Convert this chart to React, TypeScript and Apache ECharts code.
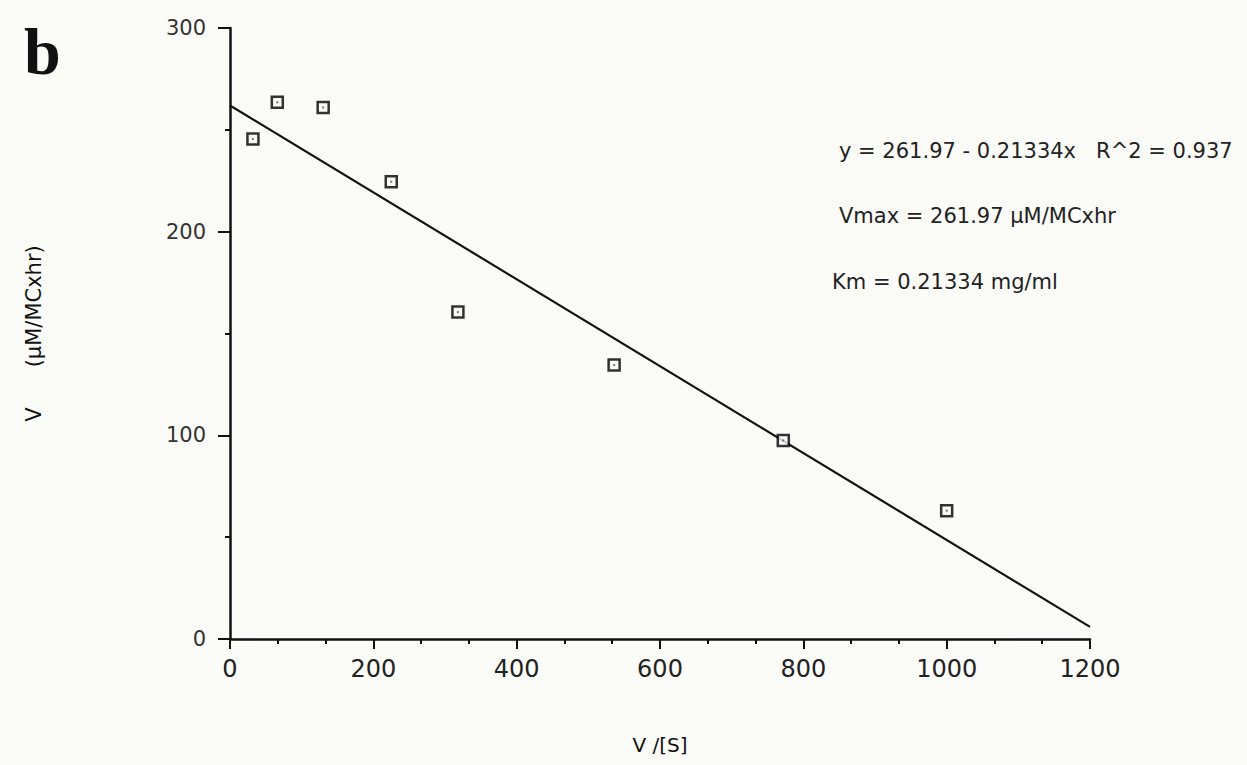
import React, { useEffect, useRef } from "react";
import * as echarts from "echarts";

// Eadie–Hofstee style plot: v against v/[S]
const vOverS = [32, 66, 130, 225, 318, 536, 772, 1000];
const velocity = [245.5, 263.5, 261, 224.5, 160.5, 134.5, 97.5, 63];

// Linear fit reported for the data
const intercept = 261.97;
const slope = -0.21334;
const fitRange = [0, 1200];

const equationLines = [
  "y = 261.97 - 0.21334x   R^2 = 0.937",
  "Vmax = 261.97 µM/MCxhr",
  "Km = 0.21334 mg/ml",
];

const AXIS_FONT = "'DejaVu Sans', sans-serif";
const INK = "#111";

export default function App() {
  const ref = useRef<HTMLDivElement>(null);

  useEffect(() => {
    document.body.style.margin = "0";
    if (!ref.current) return;
    const chart = echarts.init(ref.current, undefined, { renderer: "svg" });

    const points = vOverS.map((x, i) => [x, velocity[i]]);
    const fitLine = fitRange.map((x) => [x, intercept + slope * x]);

    chart.setOption({
      animation: false,
      backgroundColor: "#fbfbf8",
      grid: { left: 230, right: 157, top: 28, bottom: 126 },
      xAxis: {
        type: "value",
        min: 0,
        max: 1200,
        interval: 200,
        name: "V /[S]",
        nameLocation: "middle",
        nameGap: 96,
        nameTextStyle: { color: INK, fontSize: 20, fontFamily: AXIS_FONT },
        axisLine: { lineStyle: { color: INK, width: 2.5 } },
        axisTick: { show: true, inside: false, length: 10, lineStyle: { color: INK, width: 2 } },
        minorTick: { show: true, splitNumber: 3, length: 5, lineStyle: { color: INK, width: 2 } },
        axisLabel: {
          color: "#222",
          fontSize: 24,
          fontFamily: AXIS_FONT,
          margin: 18,
          formatter: (v: number) => String(v),
        },
        splitLine: { show: false },
        minorSplitLine: { show: false },
      },
      yAxis: {
        type: "value",
        min: 0,
        max: 300,
        interval: 100,
        name: "V      (µM/MCxhr)",
        nameLocation: "middle",
        nameGap: 186,
        nameRotate: 90,
        nameTextStyle: { color: INK, fontSize: 21, fontFamily: AXIS_FONT },
        axisLine: { onZero: false, lineStyle: { color: INK, width: 2.5 } },
        axisTick: { show: true, inside: false, length: 12, lineStyle: { color: INK, width: 2 } },
        minorTick: { show: true, splitNumber: 2, length: 5, lineStyle: { color: INK, width: 2 } },
        axisLabel: {
          color: "#333",
          fontSize: 21,
          fontFamily: AXIS_FONT,
          margin: 24,
          formatter: (v: number) => String(v),
        },
        splitLine: { show: false },
        minorSplitLine: { show: false },
      },
      series: [
        {
          type: "line",
          data: fitLine,
          symbol: "none",
          lineStyle: { color: INK, width: 2.2 },
          z: 2,
        },
        {
          type: "scatter",
          data: points,
          symbol: "rect",
          symbolSize: 11,
          itemStyle: { color: "#fbfbf8", borderColor: "#000", borderWidth: 2.5 },
          z: 3,
        },
        {
          type: "scatter",
          data: points,
          symbol: "rect",
          symbolSize: 2,
          itemStyle: { color: "#555" },
          z: 4,
        },
      ],
      graphic: [
        {
          type: "text",
          left: 24,
          top: 18,
          style: {
            text: "b",
            fontFamily: "'Liberation Serif', serif",
            fontWeight: "bold",
            fontSize: 66,
            fill: INK,
          },
        },
        ...equationLines.map((t, i) => ({
          type: "text",
          left: i === 2 ? 832 : 839,
          top: [140, 205, 271][i],
          style: {
            text: t,
            fontFamily: AXIS_FONT,
            fontSize: 21,
            fill: "#222",
          },
        })),
      ],
    });

    return () => chart.dispose();
  }, []);

  return (
    <div
      ref={ref}
      style={{ position: "absolute", left: 0, top: 0, width: 1247, height: 765 }}
    />
  );
}
